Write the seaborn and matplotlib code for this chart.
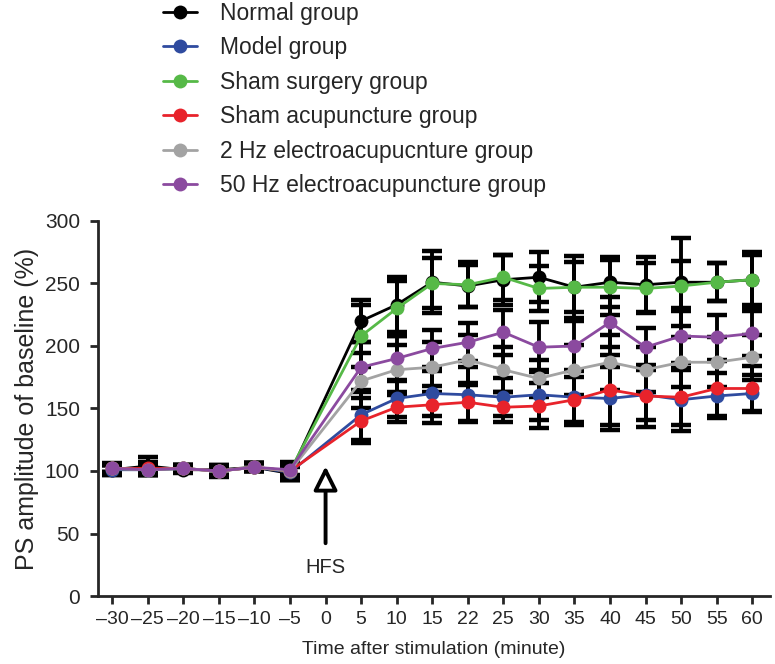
import numpy as np
import pandas as pd
import matplotlib
matplotlib.use("Agg")
import matplotlib.pyplot as plt
import seaborn as sns

# ==========================================
# Data
# ==========================================

tick_labels = ["-30", "-25", "-20", "-15", "-10", "-5", "0", "5", "10",
               "15", "22", "25", "30", "35", "40", "45", "50", "55", "60"]

# no recording at 0 (HFS applied)
times = ["-30", "-25", "-20", "-15", "-10", "-5", "5", "10",
         "15", "22", "25", "30", "35", "40", "45", "50", "55", "60"]

groups = ["Normal group", "Model group", "Sham surgery group",
          "Sham acupuncture group", "2 Hz electroacupucnture group",
          "50 Hz electroacupuncture group"]

normal = [101, 104, 101, 101, 103, 98, 220, 233, 251, 248, 253, 255, 247, 251, 249, 251, 251, 253]
model = [101, 101, 102, 100, 103, 99, 145, 158, 162, 161, 159, 161, 159, 158, 161, 157, 160, 162]
sham_surgery = [102, 101, 102, 100, 103, 100, 208, 230, 250, 249, 255, 246, 247, 247, 246, 248, 251, 253]
sham_acup = [102, 102, 102, 100, 103, 100, 140, 151, 153, 155, 151, 152, 157, 165, 160, 159, 166, 166]
ea_2hz = [102, 101, 102, 100, 103, 100, 172, 181, 183, 189, 181, 174, 181, 187, 181, 187, 187, 191]
ea_50hz = [102, 101, 102, 100, 103, 101, 183, 190, 198, 203, 211, 199, 200, 219, 199, 208, 207, 210]

normal_err = [4, 7, 3, 4, 3, 5, 17, 22, 25, 17, 20, 20, 25, 20, 22, 35, 15, 22]
model_err = [4, 4, 3, 5, 3, 6, 20, 15, 18, 22, 15, 20, 22, 25, 20, 25, 18, 15]
sham_surgery_err = [3, 4, 3, 4, 3, 4, 25, 22, 20, 18, 18, 18, 20, 22, 20, 20, 15, 20]
sham_acup_err = [4, 5, 3, 4, 3, 7, 18, 12, 15, 15, 12, 18, 18, 28, 25, 22, 22, 18]
ea_2hz_err = [3, 3, 3, 3, 3, 5, 22, 20, 20, 20, 18, 15, 20, 22, 18, 20, 20, 18]
ea_50hz_err = [3, 3, 3, 3, 3, 4, 20, 18, 15, 15, 18, 20, 20, 20, 15, 22, 18, 18]

colors = ["#000000", "#2f4b9f", "#56b947", "#e8232b", "#a3a3a3", "#8b4a9f"]

# ==========================================
# Long table
# ==========================================

values = [normal, model, sham_surgery, sham_acup, ea_2hz, ea_50hz]
errors = [normal_err, model_err, sham_surgery_err, sham_acup_err, ea_2hz_err, ea_50hz_err]

rows = []
for g, vals, errs in zip(groups, values, errors):
    for t, v, e in zip(times, vals, errs):
        rows.append([g, t, tick_labels.index(t), v, e])
df = pd.DataFrame(rows, columns=["group", "time", "pos", "value", "sem"])

# ==========================================
# Plot
# ==========================================

sns.set_style("ticks")
plt.rcParams["font.family"] = ["Liberation Sans", "DejaVu Sans"]

fig = plt.figure(figsize=(7.75, 6.64), dpi=100)
ax = fig.add_axes([0.1265, 0.1024, 0.867, 0.5648])

for g in groups:
    sub = df[df["group"] == g]
    ax.errorbar(sub["pos"], sub["value"], yerr=sub["sem"], fmt="none",
                ecolor="black", elinewidth=2.8, capsize=7, capthick=3.2, zorder=2)

sns.lineplot(data=df, x="pos", y="value", hue="group", hue_order=groups,
             palette=colors, marker="o", markersize=10, markeredgewidth=0,
             linewidth=2.0, ax=ax, zorder=3)

handles, labels = ax.get_legend_handles_labels()
ax.get_legend().remove()
fig.legend(handles, labels, loc="upper left", bbox_to_anchor=(0.21, 0.997),
           frameon=False, fontsize=16.5, handlelength=1.5, handletextpad=1.0,
           labelspacing=0.5, borderpad=0, borderaxespad=0)

ax.set_xlim(-0.4, 18.5)
ax.set_ylim(0, 300)
ax.set_xticks(range(len(tick_labels)))
ax.set_xticklabels([t.replace("-", "\u2013") for t in tick_labels])
ax.set_yticks(range(0, 301, 50))
ax.tick_params(width=2.0, length=6)
ax.tick_params(axis="x", labelsize=14, pad=5)
ax.tick_params(axis="y", labelsize=15, pad=7)
for s in ["left", "bottom"]:
    ax.spines[s].set_linewidth(2.0)
sns.despine(ax=ax)

ax.set_xlabel("Time after stimulation (minute)", fontsize=14, labelpad=9)
ax.set_ylabel("PS amplitude of baseline (%)", fontsize=18, labelpad=4)

# HFS marker
ax.annotate("", xy=(6, 106), xytext=(6, 40),
            arrowprops=dict(arrowstyle="-|>,head_length=1.2,head_width=0.6",
                            mutation_scale=12, fc="white", ec="black", lw=2.8))
ax.text(6, 23, "HFS", ha="center", va="center", fontsize=14.5)

plt.savefig("out.png", dpi=100)
